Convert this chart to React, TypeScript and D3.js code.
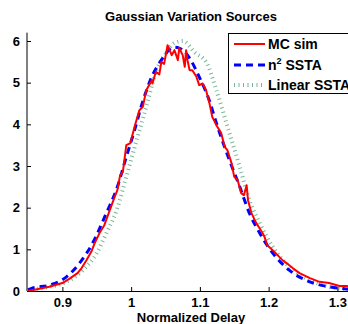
import { useEffect, useRef } from 'react'
import * as d3 from 'd3'

// values
const mcX = [0.85, 0.856, 0.881, 0.9, 0.91, 0.922, 0.928, 0.935, 0.942, 0.947, 0.954, 0.961, 0.969, 0.976, 0.98, 0.984, 0.988, 0.993, 0.999, 1.005, 1.012, 1.017, 1.022, 1.03, 1.031, 1.036, 1.041, 1.044, 1.048, 1.053, 1.059, 1.063, 1.068, 1.07, 1.075, 1.078, 1.08, 1.082, 1.085, 1.089, 1.095, 1.099, 1.104, 1.109, 1.114, 1.118, 1.124, 1.131, 1.136, 1.14, 1.146, 1.15, 1.155, 1.16, 1.164, 1.168, 1.17, 1.175, 1.182, 1.19, 1.194, 1.198, 1.206, 1.213, 1.22, 1.226, 1.235, 1.245, 1.26, 1.274, 1.288, 1.303, 1.313, 1.33, 1.35]
const mcY = [0.0, 0.02, 0.1, 0.19, 0.29, 0.43, 0.55, 0.74, 0.94, 1.15, 1.39, 1.58, 1.94, 2.26, 2.42, 2.78, 2.86, 3.5, 3.55, 3.94, 4.34, 4.42, 4.82, 5.06, 4.98, 5.26, 5.2, 5.5, 5.45, 5.9, 5.66, 5.78, 5.54, 5.83, 5.66, 5.38, 5.78, 5.54, 5.3, 5.3, 5.14, 4.94, 4.98, 4.82, 4.5, 4.18, 3.98, 3.79, 3.46, 3.38, 3.07, 2.74, 2.66, 2.35, 2.3, 2.54, 2.18, 1.87, 1.63, 1.42, 1.3, 1.1, 0.98, 0.86, 0.74, 0.67, 0.55, 0.43, 0.31, 0.22, 0.19, 0.12, 0.12, 0.08, 0.05]

const n2X = [0.85, 0.856, 0.881, 0.906, 0.925, 0.944, 0.964, 0.98, 0.993, 1.005, 1.016, 1.03, 1.046, 1.056, 1.063, 1.07, 1.085, 1.099, 1.114, 1.124, 1.143, 1.158, 1.172, 1.187, 1.206, 1.23, 1.26, 1.288, 1.313, 1.34]
const n2Y = [0.03, 0.07, 0.14, 0.34, 0.67, 1.15, 1.87, 2.5, 3.22, 3.86, 4.5, 5.14, 5.59, 5.8, 5.85, 5.83, 5.59, 5.14, 4.56, 4.03, 3.14, 2.5, 1.87, 1.39, 0.91, 0.5, 0.22, 0.1, 0.05, 0.02]

const linX = [0.85, 0.881, 0.906, 0.93, 0.95, 0.964, 0.979, 0.993, 1.008, 1.022, 1.037, 1.051, 1.063, 1.075, 1.093, 1.11, 1.124, 1.143, 1.158, 1.172, 1.187, 1.206, 1.23, 1.26, 1.288, 1.32, 1.35]
const linY = [0.03, 0.1, 0.22, 0.5, 0.91, 1.39, 1.94, 2.74, 3.62, 4.42, 5.3, 5.71, 5.95, 6.0, 5.72, 5.47, 4.82, 3.79, 2.98, 2.18, 1.63, 1.06, 0.58, 0.26, 0.1, 0.04, 0.02]

const xTicks = [0.9, 1, 1.1, 1.2, 1.3]
const yTicks = [0, 1, 2, 3, 4, 5, 6]

const W = 348
const H = 324
const FONT = '"Liberation Sans", Arial, Helvetica, sans-serif'

export default function App() {
  const svgRef = useRef<SVGSVGElement>(null)

  useEffect(() => {
    document.body.style.margin = '0'
    const svg = svgRef.current
    if (!svg) return
    const sel = d3.select(svg)
    sel.selectAll('*').remove()

    const x = d3.scaleLinear().domain([0.85, 1.35]).range([28, 371.75])
    const y = d3.scaleLinear().domain([0, 6]).range([291, 41])

    sel.append('rect').attr('width', W).attr('height', H).attr('fill', '#fff')

    // title
    sel.append('text')
      .attr('x', 191).attr('y', 21).attr('text-anchor', 'middle')
      .attr('font-family', FONT).attr('font-weight', 'bold').attr('font-size', 13)
      .text('Gaussian Variation Sources')

    // curves
    type P = [number, number]
    const line = d3.line<P>().x(d => x(d[0])).y(d => y(d[1]))
    const lineSmooth = d3.line<P>().x(d => x(d[0])).y(d => y(d[1])).curve(d3.curveMonotoneX)
    const lin: P[] = linX.map((v, i) => [v, linY[i]])
    const n2: P[] = n2X.map((v, i) => [v, n2Y[i]])
    const mc: P[] = mcX.map((v, i) => [v, mcY[i]])

    sel.append('path').datum(lin)
      .attr('fill', 'none').attr('stroke', '#4a9e70').attr('stroke-opacity', 0.75)
      .attr('stroke-width', 4).attr('stroke-dasharray', '1,3.5').attr('d', lineSmooth)
    sel.append('path').datum(n2)
      .attr('fill', 'none').attr('stroke', '#0000ff')
      .attr('stroke-width', 3).attr('stroke-dasharray', '7,5').attr('d', lineSmooth)
    sel.append('path').datum(mc)
      .attr('fill', 'none').attr('stroke', '#ff0000')
      .attr('stroke-width', 2).attr('stroke-linejoin', 'round').attr('d', line)

    // axes (MATLAB style: inward ticks, no box)
    const ax = sel.append('g').attr('transform', `translate(0,${y(0)})`)
      .call(d3.axisBottom(x).tickValues(xTicks).tickSizeInner(-4).tickSizeOuter(0).tickPadding(7)
        .tickFormat(d => String(d)))
    ax.select('.domain').attr('stroke', '#000')
    ax.selectAll('line').attr('stroke', '#000')
    ax.selectAll('text').attr('font-family', FONT).attr('font-weight', 'bold')
      .attr('font-size', 13).attr('fill', '#000')

    const ay = sel.append('g').attr('transform', `translate(${x(0.85) - 1},0)`)
      .call(d3.axisLeft(y).tickValues(yTicks).tickSizeInner(-4).tickSizeOuter(0).tickPadding(7)
        .tickFormat(d => String(d)))
    ay.select('.domain').attr('d', `M0,${y(6.2)}V${y(0)}`).attr('stroke', '#000')
    ay.selectAll('line').attr('stroke', '#000')
    ay.selectAll('text').attr('font-family', FONT).attr('font-weight', 'bold')
      .attr('font-size', 13).attr('fill', '#000')

    // x label
    sel.append('text')
      .attr('x', 191).attr('y', 321.5).attr('text-anchor', 'middle')
      .attr('font-family', FONT).attr('font-weight', 'bold').attr('font-size', 13)
      .text('Normalized Delay')

    // legend (runs past the right edge, as in the reference crop)
    const lg = sel.append('g')
    lg.append('rect').attr('x', 228.5).attr('y', 33.5).attr('width', 140).attr('height', 60)
      .attr('fill', '#fff').attr('stroke', '#000').attr('stroke-width', 1)
    const items = [
      { cy: 44, color: '#ff0000', w: 2, dash: null as string | null, op: 1 },
      { cy: 65, color: '#0000ff', w: 3, dash: '7,5', op: 1 },
      { cy: 85, color: '#4a9e70', w: 4, dash: '1,3.5', op: 0.75 },
    ]
    items.forEach(it => {
      const l = lg.append('line').attr('x1', 234).attr('x2', 265).attr('y1', it.cy).attr('y2', it.cy)
        .attr('stroke', it.color).attr('stroke-width', it.w).attr('stroke-opacity', it.op)
      if (it.dash) l.attr('stroke-dasharray', it.dash)
    })
    const txt = (yy: number) => lg.append('text').attr('x', 268).attr('y', yy)
      .attr('font-family', FONT).attr('font-weight', 'bold').attr('font-size', 14)
    txt(49).text('MC sim')
    const t2 = txt(70)
    t2.append('tspan').text('n')
    t2.append('tspan').attr('font-size', 9).attr('dy', -6).text('2')
    t2.append('tspan').attr('dy', 6).text(' SSTA')
    txt(90).text('Linear SSTA')
  }, [])

  return <svg ref={svgRef} width={W} height={H} style={{ display: 'block' }} />
}
